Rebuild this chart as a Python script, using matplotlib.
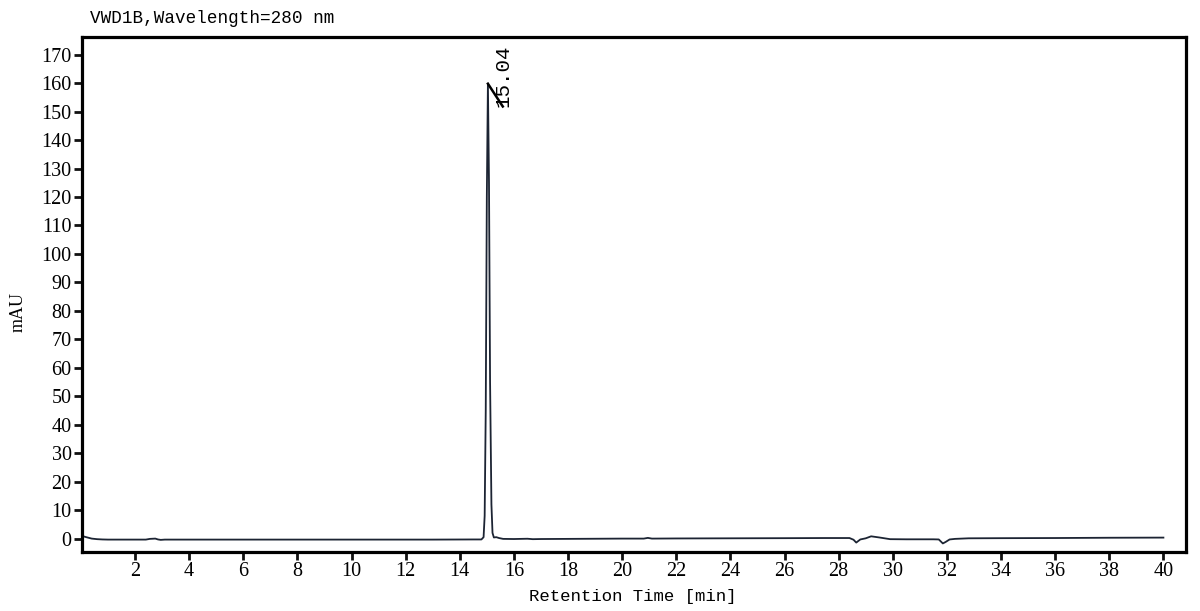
import matplotlib
matplotlib.use("Agg")
import matplotlib.pyplot as plt

# chromatogram trace (minutes, mAU)
time_min = [0.05, 0.2, 0.4, 0.6, 0.8, 1.0, 1.5, 2.0, 2.4, 2.55, 2.65, 2.75, 2.85, 2.95, 3.1, 3.5,
            5.0, 7.0, 9.0, 11.0, 13.0, 14.5, 14.80, 14.88, 14.92, 14.96, 15.00, 15.04, 15.08,
            15.12, 15.17, 15.21, 15.26, 15.35, 15.45, 15.6, 16.0, 16.5, 16.7, 17.0, 18.0, 19.0,
            20.0, 20.8, 20.95, 21.1, 22.0, 24.0, 26.0, 27.5, 28.4, 28.55, 28.65, 28.8, 29.0,
            29.2, 29.5, 29.9, 30.5, 31.0, 31.5, 31.7, 31.85, 31.95, 32.1, 32.3, 32.8, 34.0,
            36.0, 38.0, 40.0]
signal_mau = [0.9, 0.5, 0.0, -0.2, -0.3, -0.35, -0.35, -0.35, -0.35, -0.1, -0.05, 0.0, -0.3, -0.45, -0.35, -0.35,
              -0.35, -0.35, -0.35, -0.35, -0.35, -0.3, -0.3, 0.5, 8.0, 45.0, 120.0, 159.8, 125.0,
              55.0, 12.0, 2.0, 0.4, 0.5, 0.2, -0.1, -0.15, -0.05, -0.2, -0.15, -0.1, -0.05,
              0.0, 0.0, 0.25, 0.0, 0.05, 0.1, 0.15, 0.2, 0.2, -0.4, -1.4, -0.3, 0.1,
              0.8, 0.4, -0.2, -0.25, -0.25, -0.25, -0.3, -1.7, -1.2, -0.3, -0.1, 0.1, 0.15,
              0.2, 0.3, 0.35]

peak_time = 15.04
peak_height = 159.8
peak_label = "15.04"

x_ticks = list(range(2, 41, 2))
y_ticks = list(range(0, 171, 10))

plt.rcParams['font.family'] = ['Liberation Serif', 'DejaVu Serif']

fig = plt.figure(figsize=(12, 6.11), dpi=100)
ax = fig.add_axes([0.0683, 0.0966, 0.9197, 0.8428])

ax.plot(time_min, signal_mau, color='#1c2433', linewidth=1.3)

# peak marker and retention time label
ax.plot([peak_time, peak_time + 0.55], [peak_height, peak_height - 8], color='black', linewidth=1.8)
ax.text(peak_time + 0.57, peak_height - 8.2, peak_label, rotation=90, ha='center', va='bottom',
        fontsize=15, family='Liberation Mono')

ax.set_xlim(0.04, 40.82)
ax.set_ylim(-4.7, 176.2)
ax.set_xticks(x_ticks)
ax.set_yticks(y_ticks)
ax.tick_params(axis='both', direction='out', length=6, width=2, labelsize=14.5, pad=1.5, color='#111111')

for s in ax.spines.values():
    s.set_linewidth(2.3)
    s.set_color('black')

fig.text(0.075, 0.970, "VWD1B,Wavelength=280 nm", ha='left', va='center', fontsize=12.7,
         family='Liberation Mono')
fig.text(0.5275, 0.023, "Retention Time [min]", ha='center', va='center', fontsize=12.5,
         family='Liberation Mono')
fig.text(0.015, 0.49, "mAU", ha='center', va='center', rotation=90, fontsize=13)

fig.savefig("out.png", dpi=100)
